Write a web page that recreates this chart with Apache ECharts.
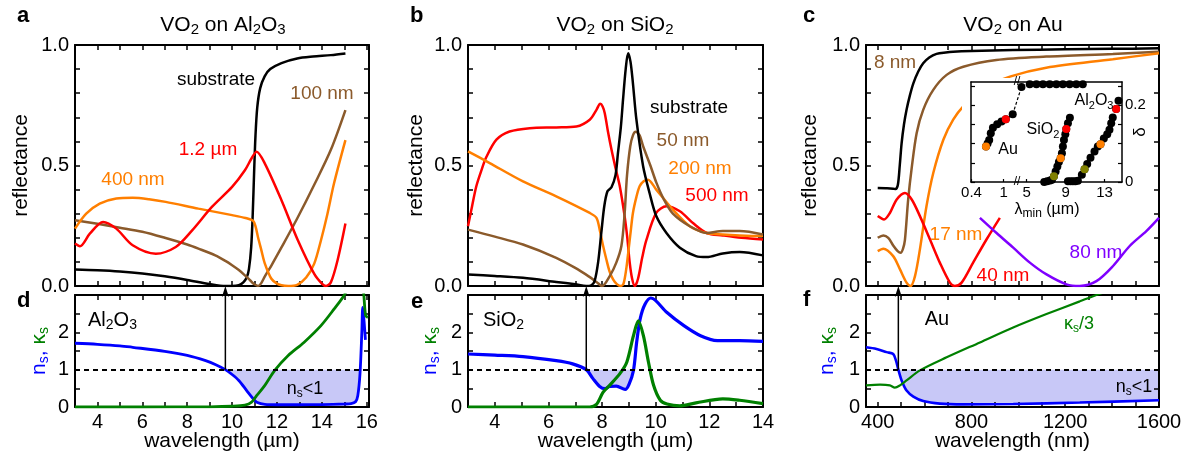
<!DOCTYPE html>
<html><head><meta charset="utf-8">
<script src="https://cdn.jsdelivr.net/npm/echarts@6.0.0/dist/echarts.min.js"></script>
<style>html,body{margin:0;padding:0;background:#fff}#c{width:1189px;height:465px}</style>
</head><body><div id="c"></div>
<script>
// ---------------- DATA ----------------
// Panel a: VO2 on Al2O3 reflectance
const aSubX = [3, 4, 5, 6, 7, 8, 9, 9.7, 10.0, 10.3, 10.5, 10.65, 10.75, 10.85, 10.92, 10.98, 11.04, 11.12, 11.25, 11.45, 11.7, 12.2, 12.9, 13.6, 14.4, 15.05];
const aSubR = [0.068, 0.065, 0.06, 0.052, 0.04, 0.025, 0.008, 0.0, 0.0, 0.003, 0.015, 0.035, 0.07, 0.16, 0.3, 0.47, 0.62, 0.74, 0.82, 0.87, 0.9, 0.925, 0.944, 0.952, 0.958, 0.965];
const a100X = [3, 4, 5, 6, 7, 8, 8.5, 9.25, 9.7, 10.0, 10.3, 10.57, 10.8, 10.98, 11.16, 11.3, 11.46, 11.75, 12.2, 12.9, 13.66, 14.4, 15.05];
const a100R = [0.273, 0.258, 0.242, 0.225, 0.2, 0.172, 0.155, 0.127, 0.104, 0.086, 0.066, 0.044, 0.024, 0.008, 0.0, 0.012, 0.04, 0.085, 0.16, 0.28, 0.42, 0.565, 0.73];
const a400X = [3, 3.5, 4.1, 4.84, 5.57, 6.3, 7.04, 8.5, 10, 10.6, 10.94, 11.05, 11.16, 11.3, 11.46, 11.75, 12.0, 12.2, 12.5, 12.9, 13.3, 13.66, 13.96, 14.25, 14.54, 15.05];
const a400R = [0.238, 0.30, 0.342, 0.363, 0.366, 0.36, 0.349, 0.321, 0.294, 0.282, 0.27, 0.245, 0.2, 0.15, 0.093, 0.03, 0.01, 0.003, 0.0, 0.005, 0.035, 0.093, 0.19, 0.30, 0.425, 0.605];
const a12X = [3, 3.22, 3.66, 4.25, 4.84, 5.57, 6.6, 7.49, 8.22, 9.1, 10, 10.57, 10.87, 11.09, 11.46, 12.2, 12.93, 13.66, 14.0, 14.18, 14.4, 14.7, 15.05];
const a12R = [0.176, 0.165, 0.217, 0.266, 0.238, 0.169, 0.134, 0.162, 0.231, 0.328, 0.411, 0.48, 0.53, 0.557, 0.508, 0.356, 0.19, 0.05, 0.01, 0.0, 0.015, 0.107, 0.259];
// Panel d: Al2O3 n and kappa
const dNX = [3, 4, 5, 5.57, 7, 8, 8.82, 9.25, 9.7, 10.0, 10.3, 10.65, 10.94, 11.1, 11.46, 12, 13, 14, 15, 15.3, 15.5, 15.6, 15.7, 15.78, 15.82, 15.88, 15.94];
const dNV = [1.707, 1.68, 1.64, 1.6, 1.49, 1.38, 1.24, 1.14, 1.0, 0.87, 0.71, 0.44, 0.22, 0.13, 0.07, 0.06, 0.06, 0.065, 0.08, 0.09, 0.14, 0.3, 0.9, 2.0, 2.67, 2.3, 1.8];
const dKX = [3, 6, 9, 10, 10.57, 10.87, 11.1, 11.46, 11.9, 12.5, 13.2, 13.96, 14.54, 15.0, 15.3, 15.6, 15.8, 15.87, 15.95, 16.05];
const dKV = [0, 0, 0.005, 0.02, 0.05, 0.13, 0.31, 0.58, 0.98, 1.38, 1.73, 2.18, 2.62, 3.0, 3.4, 3.8, 3.4, 3.0, 2.45, 2.4];
// Panel b: VO2 on SiO2 reflectance
const bSubX = [3, 4, 5.05, 6.29, 7.0, 7.41, 7.6, 7.72, 7.85, 7.97, 8.08, 8.2, 8.35, 8.5, 8.59, 8.7, 8.78, 8.88, 8.97, 9.06, 9.15, 9.28, 9.53, 9.77, 10.02, 10.4, 10.9, 11.5, 11.9, 12.5, 13.13, 14];
const bSubR = [0.048, 0.042, 0.034, 0.017, 0.007, 0.0, 0.003, 0.02, 0.097, 0.22, 0.33, 0.393, 0.41, 0.46, 0.55, 0.66, 0.772, 0.9, 0.966, 0.93, 0.841, 0.69, 0.497, 0.386, 0.29, 0.22, 0.159, 0.124, 0.12, 0.135, 0.141, 0.127];
const b50X = [3, 4, 5.05, 6.29, 7.0, 7.5, 7.79, 8.0, 8.28, 8.53, 8.72, 8.84, 8.93, 9.05, 9.15, 9.25, 9.4, 9.53, 9.8, 10.02, 10.3, 10.64, 11.27, 11.9, 12.5, 13.13, 14];
const b50R = [0.234, 0.205, 0.172, 0.117, 0.075, 0.04, 0.017, 0.0, 0.04, 0.097, 0.166, 0.30, 0.46, 0.58, 0.625, 0.64, 0.625, 0.58, 0.5, 0.43, 0.36, 0.30, 0.248, 0.22, 0.228, 0.228, 0.214];
const b200X = [3, 3.81, 5.05, 6.29, 7.54, 7.79, 7.91, 8.03, 8.16, 8.28, 8.41, 8.55, 8.7, 8.8, 8.9, 8.97, 9.06, 9.15, 9.28, 9.4, 9.55, 9.71, 10.02, 10.64, 11.27, 11.9, 12.5, 13.13, 14];
const b200R = [0.559, 0.51, 0.434, 0.372, 0.303, 0.283, 0.234, 0.17, 0.11, 0.06, 0.028, 0.008, 0.0, 0.01, 0.07, 0.134, 0.22, 0.303, 0.37, 0.414, 0.435, 0.441, 0.4, 0.317, 0.248, 0.22, 0.214, 0.21, 0.207];
const b500X = [3, 3.15, 3.31, 3.5, 3.68, 4.06, 4.55, 5.3, 6.29, 7.04, 7.54, 7.79, 7.93, 8.02, 8.1, 8.22, 8.35, 8.5, 8.66, 8.84, 8.94, 9.03, 9.12, 9.22, 9.34, 9.5, 9.65, 10.02, 10.4, 10.9, 11.4, 11.9, 12.5, 13.2, 14];
const b500R = [0.248, 0.33, 0.414, 0.48, 0.534, 0.607, 0.641, 0.655, 0.658, 0.662, 0.69, 0.731, 0.756, 0.745, 0.717, 0.64, 0.566, 0.49, 0.414, 0.29, 0.2, 0.097, 0.03, 0.0, 0.03, 0.12, 0.19, 0.303, 0.331, 0.31, 0.26, 0.22, 0.21, 0.2, 0.193];
// Panel e: SiO2 n and kappa
const eNX = [3, 4, 5.05, 6.29, 6.9, 7.41, 7.66, 7.91, 8.1, 8.28, 8.53, 8.86, 9.0, 9.17, 9.29, 9.42, 9.6, 9.82, 10.0, 10.42, 11.05, 11.67, 12.3, 13.13, 14];
const eNV = [1.42, 1.39, 1.35, 1.24, 1.156, 1.0, 0.76, 0.55, 0.49, 0.55, 0.56, 0.47, 0.6, 0.98, 1.74, 2.36, 2.75, 2.92, 2.85, 2.53, 2.18, 1.91, 1.78, 1.78, 1.76];
const eKX = [3, 7.0, 7.54, 7.79, 8.04, 8.28, 8.67, 8.92, 9.17, 9.35, 9.54, 9.73, 9.92, 10.17, 10.42, 10.9, 11.5, 12.5, 13.13, 14];
const eKV = [0, 0, 0, 0.07, 0.4, 0.58, 0.9, 1.2, 1.91, 2.31, 1.91, 1.2, 0.58, 0.18, 0.08, 0.03, 0.11, 0.22, 0.18, 0.09];
// Panel c: VO2 on Au reflectance (nm)
const cSubX = [400, 440, 466, 476, 486, 494, 502, 512, 523, 537, 552, 573, 594, 620, 651, 690, 722, 800, 977, 1200, 1400, 1600];
const cSubR = [0.407, 0.406, 0.404, 0.402, 0.42, 0.5, 0.593, 0.67, 0.731, 0.79, 0.841, 0.89, 0.924, 0.948, 0.963, 0.969, 0.972, 0.975, 0.979, 0.982, 0.984, 0.986];
const c8X = [400, 424, 445, 466, 485, 498, 508, 516, 530, 545, 566, 594, 637, 694, 765, 906, 1119, 1403, 1600];
const c8R = [0.2, 0.21, 0.2, 0.168, 0.145, 0.138, 0.155, 0.19, 0.359, 0.49, 0.634, 0.731, 0.814, 0.876, 0.91, 0.938, 0.952, 0.963, 0.972];
const c17X = [400, 424, 466, 495, 523, 540, 559, 580, 608, 637, 680, 722, 765, 850, 964, 1119, 1403, 1600];
const c17R = [0.145, 0.155, 0.124, 0.069, 0.014, 0.0, 0.041, 0.152, 0.331, 0.469, 0.607, 0.69, 0.745, 0.82, 0.869, 0.906, 0.941, 0.966];
const c40X = [400, 427, 452, 481, 516, 545, 580, 623, 665, 708, 729, 758, 807, 864, 921];
const c40R = [0.29, 0.276, 0.303, 0.359, 0.386, 0.359, 0.29, 0.193, 0.097, 0.014, 0.0, 0.014, 0.097, 0.193, 0.283];
const c80X = [836, 907, 978, 1049, 1120, 1205, 1262, 1333, 1404, 1475, 1546, 1600];
const c80R = [0.283, 0.22, 0.159, 0.097, 0.048, 0.007, 0.0, 0.02, 0.083, 0.166, 0.228, 0.283];
// Panel f: Au n and kappa/3
const fNX = [350, 395, 438, 466, 478, 488, 502, 523, 552, 594, 665, 765, 978, 1262, 1600];
const fNV = [1.6, 1.556, 1.47, 1.42, 1.24, 1.0, 0.71, 0.44, 0.28, 0.16, 0.09, 0.07, 0.08, 0.12, 0.18];
const fKX = [350, 410, 452, 473, 495, 523, 580, 694, 836, 978, 1120, 1262, 1333, 1450, 1600];
const fKV = [0.58, 0.6, 0.58, 0.52, 0.58, 0.71, 0.98, 1.33, 1.73, 2.13, 2.49, 2.83, 3.0, 3.25, 3.55];
// wavelength where n_s = 1 (arrows)
const arrowX = [9.7, 7.41, 488];
// Inset: delta vs lambda_min
const auX = [0.67, 0.70, 0.73, 0.76, 0.80, 0.88, 0.96, 1.04, 1.17];
const auD = [0.092, 0.10, 0.109, 0.127, 0.141, 0.15, 0.157, 0.163, 0.176];
const topX = [4.46, 5.31, 6.0, 6.67, 7.36, 8.05, 8.72, 9.41, 10.1, 10.77];
const topD = [0.247, 0.254, 0.254, 0.254, 0.254, 0.254, 0.254, 0.254, 0.254, 0.254];
const sioX = [6.8, 7.1, 7.4, 7.6, 7.8, 7.97, 8.15, 8.31, 8.49, 8.62, 8.72, 8.83, 8.97, 9.07, 9.24, 9.44];
const sioD = [0.0, 0.002, 0.004, 0.006, 0.015, 0.027, 0.04, 0.052, 0.062, 0.075, 0.092, 0.109, 0.124, 0.138, 0.153, 0.167];
const alX = [9.24, 9.5, 9.75, 10.0, 10.26, 10.67, 10.95, 11.22, 11.56, 11.97, 12.31, 12.59, 12.93, 13.28, 13.51, 13.69, 13.85, 14.2, 14.44];
const alD = [0.002, 0.002, 0.002, 0.002, 0.003, 0.019, 0.033, 0.047, 0.063, 0.079, 0.092, 0.098, 0.113, 0.124, 0.136, 0.153, 0.168, 0.19, 0.211];
const auMarkX = [0.67, 1.04];            // orange, red
const auMarkD = [0.092, 0.163];
const sioMarkX = [7.8, 8.49, 9.07];      // olive, orange, red
const sioMarkD = [0.015, 0.062, 0.138];
const alMarkX = [10.95, 12.59, 14.2];    // olive, orange, red
const alMarkD = [0.033, 0.098, 0.19];
// ticks & labels
const ticksXA = [3,4,5,6,7,8,9,10,11,12,13,14,15,16];
const labelsXA = [4,6,8,10,12,14,16];
const ticksXB = [3,4,5,6,7,8,9,10,11,12,13,14];
const labelsXB = [4,6,8,10,12,14];
const ticksXC = [400,500,600,700,800,900,1000,1100,1200,1300,1400,1500,1600];
const labelsXC = [400,800,1200,1600];
const ticksR = [0,0.1,0.2,0.3,0.4,0.5,0.6,0.7,0.8,0.9,1.0];
const labelsR = [0,0.5,1.0];
const ticksN = [0,0.5,1,1.5,2,2.5,3];
const labelsN = [0,1,2];
const ticksD = [0,0.05,0.1,0.15,0.2,0.25];
const labelsD = [0,0.2];
const insetLX = [0.4,1];
const insetRX = [5,9,13];

// ---------------- CHART ----------------
const FONT = "'Liberation Sans', Arial, Helvetica, sans-serif";
const C = {black:'#000000', brown:'#8b5a2b', orange:'#ff7f00', red:'#ff0000', purple:'#7f00ff', blue:'#0000ff', green:'#008000', fill:'#c8c8f7', olive:'#808000'};
const chart = echarts.init(document.getElementById('c'));
const zip = (xs, ys) => xs.map((x, i) => [x, ys[i]]);

const grids = [
  {left:75, top:45, width:294, height:241},   // 0 a
  {left:75, top:295, width:294, height:112},  // 1 d
  {left:468, top:45, width:295, height:241},  // 2 b
  {left:468, top:295, width:295, height:112}, // 3 e
  {left:866, top:45, width:293, height:241},  // 4 c
  {left:866, top:295, width:293, height:112}, // 5 f
  {left:971, top:82, width:46, height:100},   // 6 inset left
  {left:1017, top:82, width:105, height:100}  // 7 inset right
].map(g => Object.assign({containLabel:false, outerBoundsMode:'none'}, g));

function lineSt(w){ return {show:true, onZero:false, lineStyle:{color:'#000', width:w}}; }
function tickSt(vals, len, w){ return vals ? {show:true, inside:true, length:len, customValues:vals, lineStyle:{color:'#000', width:w}} : {show:false}; }
const plainFmt = v => String(v);
function ax(o){
  const a = {type:'value', gridIndex:o.grid, min:o.min, max:o.max, position:o.pos, z:(o.z === undefined ? 2 : o.z),
    axisLine:lineSt(o.lw||2), axisTick:tickSt(o.ticks, o.tlen||5, o.tw||1.5), splitLine:{show:false},
    axisLabel: o.labels ? {show:true, customValues:o.labels, color:'#000', fontSize:o.fs||20, fontFamily:FONT, margin:o.margin||5, formatter:o.fmt||plainFmt} : {show:false}};
  if (o.name) { a.name = o.name; a.nameLocation = 'middle'; a.nameGap = o.nameGap; a.nameTextStyle = o.nameStyle; a.nameMoveOverlap = false; }
  return a;
}
const nameRich = {color:'#000', fontSize:21, fontFamily:FONT};
const nkRich = {fontSize:21, fontFamily:FONT, rich:{
  n:{color:C.blue, fontSize:21, fontFamily:FONT, lineHeight:24, verticalAlign:'middle'},
  ns:{color:C.blue, fontSize:14, fontFamily:FONT, lineHeight:12, verticalAlign:'bottom'},
  k:{color:C.green, fontSize:21, fontFamily:FONT, lineHeight:24, verticalAlign:'middle'},
  ks:{color:C.green, fontSize:14, fontFamily:FONT, lineHeight:12, verticalAlign:'bottom'}}};
const nkName = '{n|n}{ns|s}{n|, }{k|κ}{ks|s}';
const fmt1 = v => v.toFixed(1);

const xAxis = [], yAxis = [];
const panels = [
  {g:0, xmin:3, xmax:16.1, xt:ticksXA, top:true, yg:43},
  {g:1, xmin:3, xmax:16.1, xt:ticksXA, xl:labelsXA, xname:'wavelength (µm)', yg:24},
  {g:2, xmin:3, xmax:14, xt:ticksXB, top:true, yg:41},
  {g:3, xmin:3, xmax:14, xt:ticksXB, xl:labelsXB, xname:'wavelength (µm)', yg:26},
  {g:4, xmin:350, xmax:1600, xt:ticksXC, top:true, yg:45},
  {g:5, xmin:350, xmax:1600, xt:ticksXC, xl:labelsXC, xname:'wavelength (nm)', yg:27}
];
panels.forEach(p => {
  xAxis.push(ax({grid:p.g, min:p.xmin, max:p.xmax, pos:'bottom', ticks:p.xt, labels:p.xl, name:p.xname, nameGap:24, nameStyle:nameRich}));
  xAxis.push(ax({grid:p.g, min:p.xmin, max:p.xmax, pos:'top', ticks:p.xt}));
  if (p.top) {
    yAxis.push(ax({grid:p.g, min:0, max:1, pos:'left', ticks:ticksR, labels:labelsR, fmt:fmt1, margin:6, name:'reflectance', nameGap:p.yg, nameStyle:nameRich}));
    yAxis.push(ax({grid:p.g, min:0, max:1, pos:'right', ticks:ticksR}));
  } else {
    yAxis.push(ax({grid:p.g, min:0, max:3, pos:'left', ticks:ticksN, labels:labelsN, margin:6, name:nkName, nameGap:p.yg, nameStyle:nkRich}));
    yAxis.push(ax({grid:p.g, min:0, max:3, pos:'right', ticks:ticksN}));
  }
});
// inset axes (x 12..15, y 12..13)
xAxis.push(ax({grid:6, min:0.39, max:1.25, pos:'bottom', ticks:insetLX, labels:insetLX, fs:15, margin:3, lw:1.5, tw:1.2, tlen:3, z:10}));
xAxis.push(ax({grid:6, min:0.39, max:1.25, pos:'top', lw:1.5, z:10}));
xAxis.push(ax({grid:7, min:4.0, max:14.8, pos:'bottom', ticks:insetRX, labels:insetRX, fs:15, margin:3, lw:1.5, tw:1.2, tlen:3, z:10}));
xAxis.push(ax({grid:7, min:4.0, max:14.8, pos:'top', lw:1.5, z:10}));
yAxis.push(ax({grid:6, min:0, max:0.26, pos:'left', ticks:ticksD, lw:1.5, tw:1.2, tlen:4, z:10}));
yAxis.push(ax({grid:7, min:0, max:0.26, pos:'right', ticks:ticksD, labels:labelsD, fs:15, margin:3, lw:1.5, tw:1.2, tlen:4, z:10,
  name:'δ', nameGap:10, nameStyle:{color:'#000', fontSize:17, fontFamily:FONT}}));

const series = [];
const SM = 0.3;
function L(g, xs, ys, color, w, z, extra){
  series.push(Object.assign({type:'line', xAxisIndex:2*g, yAxisIndex:2*g, data:zip(xs, ys), showSymbol:false, symbol:'none',
    smooth:SM, silent:true, animation:false, z:z||3, lineStyle:{color, width:w||2.5}}, extra||{}));
}
// shaded n_s<1 region: lavender below n=1, then white below the n curve
function fillBand(g, xs, ns){
  const idx = ns.map((v, i) => (v <= 1 ? i : -1)).filter(i => i >= 0);
  const fx = xs.slice(idx[0], idx[idx.length - 1] + 1);
  series.push({type:'line', xAxisIndex:2*g, yAxisIndex:2*g, data:zip(fx, fx.map(() => 1)), symbol:'none', showSymbol:false,
    silent:true, z:1, lineStyle:{opacity:0}, areaStyle:{color:C.fill, opacity:1}});
  series.push({type:'line', xAxisIndex:2*g, yAxisIndex:2*g, data:zip(xs, ns), symbol:'none', showSymbol:false,
    smooth:SM, silent:true, z:1.5, lineStyle:{opacity:0}, areaStyle:{color:'#fff', opacity:1}});
}
const dashed = {silent:true, symbol:'none', label:{show:false}, lineStyle:{type:[5,4], color:'#000', width:2}, data:[{yAxis:1}], animation:false};
// a
L(0, aSubX, aSubR, C.black); L(0, a100X, a100R, C.brown); L(0, a400X, a400R, C.orange); L(0, a12X, a12R, C.red);
// d
fillBand(1, dNX, dNV);
L(1, dNX, dNV, C.blue, 2.8, 3, {markLine:dashed});
L(1, dKX, dKV, C.green, 2.8, 4);
// b
L(2, b500X, b500R, C.red); L(2, b200X, b200R, C.orange); L(2, b50X, b50R, C.brown); L(2, bSubX, bSubR, C.black);
// e
fillBand(3, eNX, eNV);
L(3, eNX, eNV, C.blue, 3.2, 3, {markLine:dashed});
L(3, eKX, eKV, C.green, 3.2, 4);
// c
L(4, cSubX, cSubR, C.black); L(4, c8X, c8R, C.brown); L(4, c17X, c17R, C.orange); L(4, c40X, c40R, C.red); L(4, c80X, c80R, C.purple);
// f
fillBand(5, fNX, fNV);
L(5, fNX, fNV, C.blue, 2.6, 3, {markLine:dashed});
L(5, fKX, fKV, C.green, 2.2, 4);
// inset
const dot = 8;
const blk = {color:'#000', opacity:1};
series.push({type:'line', xAxisIndex:12, yAxisIndex:12, data:zip(auX, auD), symbol:'circle', symbolSize:dot, showSymbol:true, silent:true, z:10,
  lineStyle:{color:'#000', width:1.5}, itemStyle:blk});
series.push({type:'scatter', xAxisIndex:14, yAxisIndex:13, data:zip(topX, topD), symbolSize:dot, silent:true, z:10, itemStyle:blk});
series.push({type:'scatter', xAxisIndex:14, yAxisIndex:13, data:zip(sioX, sioD), symbolSize:dot, silent:true, z:10, itemStyle:blk});
series.push({type:'scatter', xAxisIndex:14, yAxisIndex:13, data:zip(alX, alD), symbolSize:dot, silent:true, z:10, itemStyle:blk});
const auMarkCol = [C.orange, C.red], markCol = [C.olive, C.orange, C.red];
series.push({type:'scatter', xAxisIndex:12, yAxisIndex:12, data:zip(auMarkX, auMarkD), symbolSize:dot, silent:true, z:11, itemStyle:{opacity:1, color: p => auMarkCol[p.dataIndex]}});
series.push({type:'scatter', xAxisIndex:14, yAxisIndex:13, data:zip(sioMarkX, sioMarkD), symbolSize:dot, silent:true, z:11, itemStyle:{opacity:1, color: p => markCol[p.dataIndex]}});
series.push({type:'scatter', xAxisIndex:14, yAxisIndex:13, data:zip(alMarkX, alMarkD), symbolSize:dot, silent:true, z:11, itemStyle:{opacity:1, color: p => markCol[p.dataIndex]}});

chart.setOption({animation:false, backgroundColor:'#fff', grid:grids, xAxis, yAxis, series});

// ---------------- ANNOTATIONS ----------------
function T(x, y, text, color, size, align, bold){
  return {type:'text', x, y, z:20, silent:true, style:{text, fill:color, fontSize:size, fontFamily:FONT, fontWeight:bold?'bold':'normal', align:align||'center', verticalAlign:'middle'}};
}
function RT(x, y, text, color, size, sub, align){
  return {type:'text', x, y, z:20, silent:true, style:{text, fill:color, fontSize:size, fontFamily:FONT, align:align||'center', verticalAlign:'middle',
    rich:{m:{fill:color, fontSize:size, fontFamily:FONT, lineHeight:size+4, verticalAlign:'middle'},
          s:{fill:color, fontSize:sub, fontFamily:FONT, lineHeight:sub-2, verticalAlign:'bottom'}}}};
}
const els = [];
els.push({type:'rect', z:5, silent:true, shape:{x:962, y:78, width:190, height:122}, style:{fill:'#fff'}});
// titles
els.push(RT(223, 25, '{m|VO}{s|2}{m| on Al}{s|2}{m|O}{s|3}', '#000', 21, 15));
els.push(RT(615, 25, '{m|VO}{s|2}{m| on SiO}{s|2}', '#000', 21, 15));
els.push(RT(1013, 25, '{m|VO}{s|2}{m| on Au}', '#000', 21, 15));
// letters
[['a',17,16],['b',410,16],['c',803,16],['d',17,301],['e',411,302],['f',803,300]].forEach(l => els.push(T(l[1], l[2], l[0], '#000', 22, 'left', true)));
// panel a
els.push(T(216, 80, 'substrate', C.black, 19)); els.push(T(322, 94, '100 nm', C.brown, 19));
els.push(T(208, 150, '1.2 µm', C.red, 19)); els.push(T(133, 180, '400 nm', C.orange, 19));
// panel b
els.push(T(689, 108, 'substrate', C.black, 19)); els.push(T(683, 141, '50 nm', C.brown, 19));
els.push(T(700, 169, '200 nm', C.orange, 19)); els.push(T(717, 196, '500 nm', C.red, 19));
// panel c
els.push(T(895, 63, '8 nm', C.brown, 19)); els.push(T(956, 235, '17 nm', C.orange, 19));
els.push(T(1003, 276, '40 nm', C.red, 19)); els.push(T(1096, 253, '80 nm', C.purple, 19));
// panels d e f
els.push(RT(88, 320, '{m|Al}{s|2}{m|O}{s|3}', '#000', 20, 14, 'left'));
els.push(RT(305, 389, '{m|n}{s|s}{m|<1}', '#000', 18, 12));
els.push(RT(483, 320, '{m|SiO}{s|2}', '#000', 20, 14, 'left'));
els.push(T(937, 319, 'Au', '#000', 20));
els.push(RT(1079, 324, '{m|κ}{s|s}{m|/3}', C.green, 18, 12));
els.push(RT(1134, 387, '{m|n}{s|s}{m|<1}', '#000', 18, 12));
// inset labels
els.push(T(1008, 150, 'Au', '#000', 16));
els.push(RT(1043, 130, '{m|SiO}{s|2}', '#000', 16, 11));
els.push(RT(1094, 101, '{m|Al}{s|2}{m|O}{s|3}', '#000', 16, 11));
els.push(RT(1047, 210, '{m|λ}{s|min}{m| (µm)}', '#000', 16, 12));
els.push(T(1017, 82, '//', '#000', 12));
els.push(T(1017, 182, '//', '#000', 12));
// arrows (positions from the library's scales)
const arrowAxes = [[2, 0], [6, 4], [10, 8]];
arrowAxes.forEach((ai, k) => {
  const p1 = chart.convertToPixel({xAxisIndex:ai[0], yAxisIndex:ai[0]}, [arrowX[k], 1]);
  const p2 = chart.convertToPixel({xAxisIndex:ai[1], yAxisIndex:ai[1]}, [arrowX[k], 0]);
  els.push({type:'line', z:20, silent:true, shape:{x1:p1[0], y1:p1[1], x2:p2[0], y2:p2[1]+6}, style:{stroke:'#000', lineWidth:1.5}});
  els.push({type:'polygon', z:20, silent:true, shape:{points:[[p2[0], p2[1]], [p2[0]-3.5, p2[1]+11], [p2[0], p2[1]+8], [p2[0]+3.5, p2[1]+11]]}, style:{fill:'#000'}});
});
// dashed connector across the inset axis break
const q1 = chart.convertToPixel({xAxisIndex:12, yAxisIndex:12}, [auX[auX.length-1], auD[auD.length-1]]);
const q2 = chart.convertToPixel({xAxisIndex:14, yAxisIndex:13}, [topX[0], topD[0]]);
els.push({type:'line', z:9, silent:true, shape:{x1:q1[0], y1:q1[1], x2:q2[0], y2:q2[1]}, style:{stroke:'#000', lineWidth:1.2, lineDash:[3,2]}});
chart.setOption({graphic:{elements:els}});
</script></body></html>
